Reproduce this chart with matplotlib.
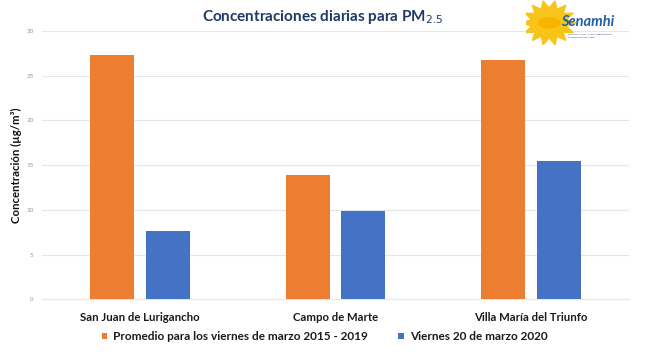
import matplotlib
matplotlib.use("Agg")
import matplotlib.pyplot as plt
import numpy as np
from matplotlib.patches import Polygon, Circle

categories = ["San Juan de Lurigancho", "Campo de Marte", "Villa María del Triunfo"]
promedio = [27.3, 13.9, 26.8]
viernes = [7.65, 9.85, 15.45]
series_names = ["Promedio para los viernes de marzo 2015 - 2019", "Viernes 20 de marzo 2020"]
yticks = [0, 5, 10, 15, 20, 25, 30]

plt.rcParams['font.family'] = ['Lato', 'DejaVu Sans']

fig = plt.figure(figsize=(6.45, 3.63), dpi=100)
ax = fig.add_axes([0.065, 0.175, 0.910, 0.740])

x = np.arange(len(categories))
w = 0.225
off = 0.1425
b1 = ax.bar(x - off, promedio, w, color="#ED7D31", label=series_names[0], zorder=3)
b2 = ax.bar(x + off, viernes, w, color="#4472C4", label=series_names[1], zorder=3)

ax.set_xlim(-0.5, 2.5)
ax.set_ylim(0, 30)
ax.set_yticks(yticks)
ax.set_yticklabels([str(t) for t in yticks], fontsize=4.5, color="#999999")
ax.yaxis.grid(True, color="#E6E6E6", linewidth=0.8, zorder=0)
for s in ["top", "right", "left"]:
    ax.spines[s].set_visible(False)
ax.spines["bottom"].set_color("#E6E6E6")
ax.tick_params(axis="y", length=0, pad=6)
ax.tick_params(axis="x", length=0, pad=9)
ax.set_xticks(x)
ax.set_xticklabels(categories, fontsize=8.2, fontweight="bold", color="#1a1a1a")
ax.set_ylabel("Concentración (µg/m³)", fontsize=8.2, fontweight="bold", color="#111111", labelpad=3)

leg = fig.legend(handles=[b1, b2], labels=series_names, loc="center", bbox_to_anchor=(0.503, 0.072),
                 ncol=2, frameon=False, prop={"weight": "bold", "size": 8.5},
                 handlelength=0.45, handleheight=0.45, handletextpad=0.5, columnspacing=2.6)
for t in leg.get_texts():
    t.set_color("#1a1a1a")

fig.text(0.50, 0.952, "Concentraciones diarias para PM$_{2.5}$", ha="center", va="center",
         fontsize=11, fontweight="bold", color="#1F3864")

# Senamhi logo (drawn)
lax = fig.add_axes([0.815, 0.86, 0.165, 0.14])
lax.set_xlim(0, 1)
lax.set_ylim(0, 1)
lax.axis("off")
cx, cy = 0.22, 0.55
n = 14
pts = []
for i in range(2 * n):
    ang = np.pi * i / n
    r = 0.42 if i % 2 == 0 else 0.28
    pts.append((cx + r * np.cos(ang) * 0.6, cy + r * np.sin(ang) * 1.05))
lax.add_patch(Polygon(pts, closed=True, color="#F9C41A", zorder=1))
lax.add_patch(Circle((cx, cy), 0.1, color="#F7B500", zorder=1))
lax.text(0.58, 0.56, "Senamhi", ha="center", va="center", fontsize=10.5, fontweight="bold",
         style="italic", color="#1F5FA8", zorder=2)
lax.text(0.40, 0.30, "SERVICIO NACIONAL DE METEOROLOGÍA\nE HIDROLOGÍA DEL PERÚ", ha="left", va="center",
         fontsize=1.6, color="#1F3864", zorder=2, linespacing=1.2)

fig.savefig("out.png", dpi=100)
